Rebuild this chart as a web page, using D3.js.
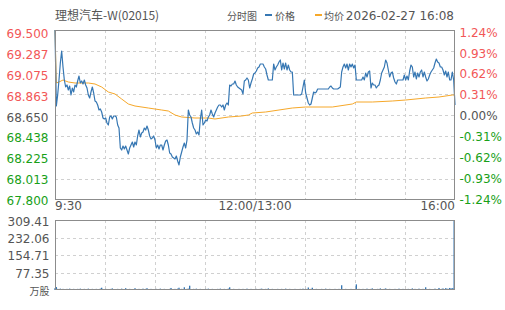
<!DOCTYPE html>
<html><head><meta charset="utf-8">
<script src="https://cdn.jsdelivr.net/npm/d3@7/dist/d3.min.js"></script>
<style>
body{margin:0;background:#fff;}
svg{display:block;font-family:"DejaVu Sans",sans-serif;}
</style></head>
<body><svg id="c" width="505" height="310"></svg>
<script>
const titleText = "理想汽车-W(02015)";
const chartType = "分时图";
const legendNames = ["价格", "均价"];
const stamp = "2026-02-27 16:08";
const prevClose = 68.65;
const priceTicks = ["69.500","69.287","69.075","68.863","68.650","68.438","68.225","68.013","67.800"];
const pctTicks = ["1.24%","0.93%","0.62%","0.31%","0.00%","-0.31%","-0.62%","-0.93%","-1.24%"];
const volTicks = ["309.41","232.06","154.71","77.35","万股"];
const timeLabels = ["9:30","12:00/13:00","16:00"];

const prices = [
69.50,68.74,68.85,69.00,69.17,69.29,69.13,69.00,68.93,68.95,
68.90,68.94,68.85,68.92,68.88,68.95,68.93,68.99,69.04,68.97,
68.99,68.96,69.00,68.95,68.92,68.85,68.82,68.88,68.93,68.87,
68.79,68.78,68.75,68.70,68.71,68.68,68.62,68.61,68.62,68.57,
68.55,68.63,68.64,68.61,68.64,68.64,68.63,68.55,68.52,68.32,
68.30,68.34,68.31,68.34,68.30,68.26,68.32,68.35,68.38,68.33,
68.38,68.35,68.44,68.50,68.43,68.47,68.48,68.52,68.50,68.54,
68.50,68.44,68.41,68.42,68.44,68.40,68.32,68.35,68.31,68.35,
68.35,68.30,68.35,68.39,68.40,68.35,68.27,68.26,68.23,68.22,
68.21,68.24,68.19,68.15,68.23,68.28,68.33,68.37,68.32,68.40,
68.70,68.65,68.63,68.57,68.52,68.50,68.46,68.48,68.45,68.61,
68.70,68.55,68.57,68.60,68.59,68.63,68.65,68.70,68.66,68.63,
68.67,68.70,68.73,68.75,68.75,68.73,68.75,68.70,68.75,68.77,
68.75,68.95,68.94,68.96,68.96,68.99,68.95,68.93,68.92,68.91,
68.90,68.86,68.99,69.00,69.02,69.00,
68.92,68.97,69.01,69.06,69.07,69.09,69.12,69.13,69.16,69.16,
69.16,69.13,69.11,69.05,69.00,69.00,69.00,69.00,69.16,69.10,
69.13,69.15,69.18,69.20,69.10,69.17,69.11,69.17,69.10,69.15,
69.10,69.08,69.08,68.85,68.85,68.85,68.85,68.85,68.85,68.86,
68.93,69.00,68.87,68.82,68.77,68.75,68.76,68.82,68.88,68.87,
68.88,68.91,68.91,68.91,68.91,68.91,68.91,68.91,68.91,68.91,
68.93,68.94,68.92,68.91,68.91,68.91,68.91,68.92,68.93,69.08,
69.13,69.16,69.12,69.16,69.10,69.16,69.13,69.16,69.12,69.15,
69.00,69.00,69.00,69.00,69.00,69.03,69.00,69.07,69.03,69.08,
69.09,68.92,68.97,68.95,68.95,68.92,68.94,68.95,69.00,69.07,
69.10,69.13,69.20,69.17,69.10,69.03,69.07,69.08,69.02,68.98,
68.96,69.00,69.00,69.00,69.00,69.00,69.05,69.00,69.04,69.00,
69.09,69.15,69.13,69.03,69.08,69.01,69.07,69.03,69.08,69.10,
69.03,69.08,69.03,68.99,69.01,69.05,69.08,69.10,69.12,69.17,
69.21,69.18,69.17,69.13,69.13,69.10,69.05,69.09,69.03,69.08,
69.00,69.00,69.08,69.00,68.75
];

const avgIdx = [0,1,3,6,10,15,25,30,35,40,45,50,55,60,70,80,85,90,95,105,115,120,130,140,145,148,158,168,178,188,208,213,223,226,238,253,263,278,288,298,300];
const avgVal = [69.50,68.97,68.98,69.00,68.98,68.97,68.97,68.96,68.93,68.88,68.86,68.81,68.76,68.74,68.72,68.70,68.69,68.65,68.63,68.62,68.62,68.61,68.63,68.64,68.65,68.67,68.68,68.70,68.72,68.73,68.73,68.74,68.76,68.78,68.78,68.79,68.80,68.82,68.83,68.85,68.85];

const volumes = [
8,13,5,4,6,4,5,4,4,5,4,6,4,4,5,4,4,5,4,6,
4,4,5,4,4,6,4,4,5,4,4,5,4,4,6,10,4,4,5,4,
4,4,5,7,4,4,4,5,4,4,6,4,4,8,4,4,5,4,4,4,
8,4,4,5,4,4,6,4,5,8,4,4,5,4,4,4,5,4,4,6,
4,4,5,4,4,4,5,9,4,4,5,4,6,10,4,5,4,12,4,5,
6,19,4,4,5,4,6,4,4,5,4,4,4,5,4,6,4,4,5,4,
4,4,5,4,6,4,4,5,4,4,6,12,4,4,5,4,4,4,5,4,
4,5,4,4,6,4,4,5,4,4,4,5,4,4,5,6,4,4,5,4,
7,4,4,5,4,4,4,5,4,4,5,4,4,6,4,4,5,4,4,4,
5,4,4,4,5,4,6,4,5,4,11,4,5,10,4,4,5,4,4,4,
5,4,4,6,4,4,5,4,4,4,5,4,4,5,4,21,4,4,5,4,
4,4,5,4,4,4,25,4,5,4,4,5,4,4,6,4,4,5,7,4,
4,4,5,4,7,4,4,5,7,4,4,5,4,4,4,5,4,4,6,4,
4,5,4,4,4,5,4,4,7,4,5,4,4,6,4,4,5,4,12,4,
4,5,4,4,4,6,4,4,9,4,5,7,4,8,6,5,9,7,8,6,
309.41
];

const svg = d3.select("#c");
const L = 55, R = 455, T = 30, B = 200, VT = 220, VB = 290;
const RED = "#f25757", GREEN = "#18a018", GRAY = "#555", GRID = "#d0d0d0", BORDER = "#8c8c8c";
const PRICE_C = "#3677b3", AVG_C = "#f6a82a";
const n = prices.length;

const x = d3.scaleLinear().domain([0, n - 1]).range([L, R]);
const y = d3.scaleLinear().domain([67.8, 69.5]).range([B, T]);
const yv = d3.scaleLinear().domain([0, 309.41]).range([VB, VT]);
const gridX = d3.scaleLinear().domain([0, 8]).range([L, R]);
const gridY = d3.scaleLinear().domain([0, 8]).range([T, B]);
const gridYV = d3.scaleLinear().domain([0, 4]).range([VT, VB]);
const lblL = d3.scaleLinear().domain([0, 8]).range([38.3, 205]);
const lblR = d3.scaleLinear().domain([0, 8]).range([36.6, 204]);
const lblV = d3.scaleLinear().domain([0, 4]).range([225.7, 295]);

function grid(top, bottom, yScale, rows) {
  const g = svg.append("g").attr("stroke", GRID).attr("stroke-dasharray", "3,3").attr("stroke-width", 1);
  for (let k = 1; k < 8; k++) {
    const gx = Math.round(gridX(k)) + 0.5;
    g.append("line").attr("x1", gx).attr("x2", gx).attr("y1", top).attr("y2", bottom);
  }
  for (let k = 1; k < rows; k++) {
    const gy = Math.round(yScale(k)) + 0.5;
    g.append("line").attr("x1", L).attr("x2", R).attr("y1", gy).attr("y2", gy);
  }
}
grid(T, B, gridY, 8);
grid(VT, VB, gridYV, 4);

// avg line
const avgPts = avgIdx.map((d, i) => [d, avgVal[i]]);
svg.append("path").datum(avgPts)
  .attr("fill", "none").attr("stroke", AVG_C).attr("stroke-width", 1)
  .attr("d", d3.line().x(d => x(d[0])).y(d => y(d[1])));

// price line
svg.append("path").datum(prices)
  .attr("fill", "none").attr("stroke", PRICE_C).attr("stroke-width", 1.2)
  .attr("stroke-linejoin", "round")
  .attr("d", d3.line().x((d, i) => x(i)).y(d => y(d)));

// volume bars
const step = (R - L) / (n - 1);
svg.append("g").selectAll("rect").data(volumes).join("rect")
  .attr("x", (d, i) => Math.min(x(i) - step / 2, R - 1.5))
  .attr("width", (d, i) => i === n - 1 ? 1.5 : step)
  .attr("y", d => yv(d))
  .attr("height", d => VB - yv(d))
  .attr("fill", PRICE_C);

// borders
svg.append("rect").attr("x", L + 0.5).attr("y", T + 0.5).attr("width", R - L - 1).attr("height", B - T - 1)
  .attr("fill", "none").attr("stroke", BORDER);
svg.append("rect").attr("x", L + 0.5).attr("y", VT + 0.5).attr("width", R - L - 1).attr("height", VB - VT - 1)
  .attr("fill", "none").attr("stroke", BORDER);

const colorFor = k => k < 4 ? RED : (k === 4 ? GRAY : GREEN);
// left price labels
svg.append("g").selectAll("text").data(priceTicks).join("text")
  .attr("x", 48.5).attr("y", (d, k) => lblL(k)).attr("text-anchor", "end")
  .attr("font-size", 12).attr("fill", (d, k) => colorFor(k)).text(d => d);
// right pct labels
svg.append("g").selectAll("text").data(pctTicks).join("text")
  .attr("x", 459.5).attr("y", (d, k) => lblR(k)).attr("text-anchor", "start")
  .attr("font-size", 12).attr("fill", (d, k) => colorFor(k)).text(d => d);
// volume labels
svg.append("g").selectAll("text").data(volTicks).join("text")
  .attr("x", 49.5).attr("y", (d, k) => lblV(k)).attr("text-anchor", "end")
  .attr("fill", GRAY)
  .style("font-family", (d, k) => k === 4 ? "'Noto Sans CJK SC',sans-serif" : null)
  .attr("font-size", (d, k) => k === 4 ? 10 : 12)
  .text(d => d);
// time labels
const tAnchor = ["start", "middle", "end"];
const tX = [L, (L + R) / 2, R];
svg.append("g").selectAll("text").data(timeLabels).join("text")
  .attr("x", (d, i) => tX[i]).attr("y", 210).attr("text-anchor", (d, i) => tAnchor[i])
  .attr("font-size", 12).attr("fill", GRAY).text(d => d);

// header
const cjk = "'Noto Sans CJK SC','DejaVu Sans',sans-serif";
svg.append("text").attr("x", 55).attr("y", 19.5).attr("font-size", 12).attr("fill", GRAY)
  .style("font-family", cjk).text(titleText);
svg.append("text").attr("x", 257).attr("y", 19.5).attr("font-size", 10).attr("fill", GRAY)
  .attr("text-anchor", "end").style("font-family", cjk).text(chartType);
svg.append("line").attr("x1", 265).attr("x2", 272).attr("y1", 15).attr("y2", 15)
  .attr("stroke", PRICE_C).attr("stroke-width", 2);
svg.append("text").attr("x", 275).attr("y", 19.5).attr("font-size", 10).attr("fill", GRAY)
  .style("font-family", cjk).text(legendNames[0]);
svg.append("line").attr("x1", 315).attr("x2", 322).attr("y1", 15).attr("y2", 15)
  .attr("stroke", AVG_C).attr("stroke-width", 2);
svg.append("text").attr("x", 324).attr("y", 19.5).attr("font-size", 10).attr("fill", GRAY)
  .style("font-family", cjk).text(legendNames[1]);
svg.append("text").attr("x", 454).attr("y", 19.5).attr("font-size", 12).attr("fill", GRAY)
  .attr("text-anchor", "end").text(stamp);
</script></body></html>
